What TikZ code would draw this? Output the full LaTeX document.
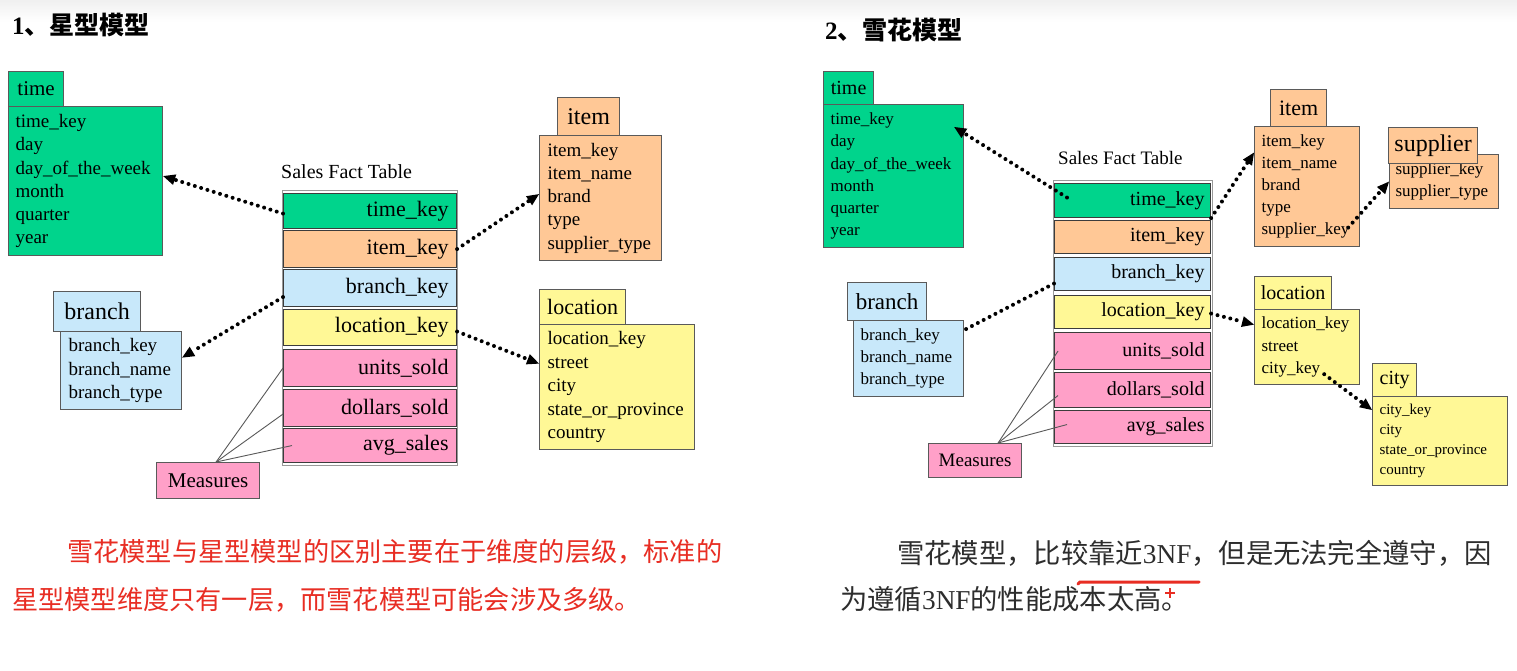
\documentclass[tikz,border=0pt]{standalone}
\usepackage{fontspec}
\setmainfont{Liberation Serif}
\newfontfamily\cjk{Noto Sans CJK SC}
\newfontfamily\lsr{Liberation Serif}
\usetikzlibrary{arrows.meta,calc}
\definecolor{cgreen}{RGB}{0,212,140}
\definecolor{corange}{RGB}{255,200,150}
\definecolor{cblue}{RGB}{200,232,250}
\definecolor{cyellow}{RGB}{255,248,150}
\definecolor{cpink}{RGB}{255,160,200}
\definecolor{cborder}{RGB}{90,90,90}
\definecolor{cdark}{RGB}{60,60,60}
\definecolor{cred}{RGB}{232,45,35}
\definecolor{ctext}{RGB}{45,45,45}
\newcommand\setfz[2]{\fontsize{#1}{#2}\selectfont}
\tikzset{
  wh/.style 2 args={minimum width=#1pt, minimum height=#2pt},
  tw/.style={text width=#1pt},
  tabbox/.style={draw=cborder, line width=1.2pt, anchor=north west, inner sep=0pt, align=center},
  bodybox/.style={draw=cborder, line width=1.2pt, anchor=north west, inner ysep=0pt, align=left},
  factrow/.style={draw=cdark, line width=1.1pt, anchor=north west, inner ysep=0pt, align=right},
  frame/.style={draw=gray!80, line width=1.2pt, anchor=north west, inner sep=0pt},
  dotline/.style={line width=4pt, dash pattern=on 0pt off 6.6pt, line cap=round},
  dotarrow/.style={dotline, -{Triangle[length=12pt,width=11pt,line width=0pt]}},
  measline/.style={draw=gray!70!black, line width=0.9pt},
  lbl/.style={inner sep=0pt},
}
\begin{document}
\begin{tikzpicture}[x=1pt,y=-1pt]
\useasboundingbox (0,0) rectangle (1517,671);
\fill[white] (0,0) rectangle (1517,671);
\shade[top color=gray!12, bottom color=white] (0,0) rectangle (1517,22);

% ---------------- titles ----------------
\node[lbl, anchor=base west] (t1) at (12,35) {\setfz{25}{30}\bfseries 1{\cjk\bfseries 、星型模型}};
\node[lbl, anchor=base west] (t2) at (825,40) {\setfz{25}{30}\bfseries 2{\cjk\bfseries 、雪花模型}};

% ================= LEFT: star schema =================
% time
\node[tabbox, fill=cgreen, wh={55}{35}, font=\setfz{21}{24}] (Ltt) at (8,71) {time};
\node[bodybox, fill=cgreen, wh={154}{149}, inner xsep=7pt, tw=140, font=\setfz{19}{23.2}] (Ltb) at (8,106)
  {time\_key\\day\\day\_of\_the\_week\\month\\quarter\\year};
% item
\node[tabbox, fill=corange, wh={62}{38}, font=\setfz{24}{26}] (Lit) at (557,97) {item};
\node[bodybox, fill=corange, wh={122}{125}, inner xsep=8pt, tw=106, font=\setfz{19}{23.2}] (Lib) at (539,135)
  {item\_key\\item\_name\\brand\\type\\supplier\_type};
% location
\node[tabbox, fill=cyellow, wh={86}{35}, font=\setfz{22}{24}] (Llt) at (539,289) {location};
\node[bodybox, fill=cyellow, wh={155}{125}, inner xsep=8pt, tw=139, font=\setfz{19}{23.5}] (Llb) at (539,324)
  {location\_key\\street\\city\\state\_or\_province\\country};
% branch
\node[tabbox, fill=cblue, wh={87}{40}, font=\setfz{24}{26}] (Lbt) at (53,291) {branch};
\node[bodybox, fill=cblue, wh={121}{78}, inner xsep=8pt, tw=105, font=\setfz{19}{23.5}] (Lbb) at (60,331)
  {branch\_key\\branch\_name\\branch\_type};
% measures
\node[tabbox, fill=cpink, wh={103}{36}, font=\setfz{21}{24}] (Lm) at (156,462) {Measures};
% fact table
\node[lbl, anchor=west, font=\setfz{20}{24}] (Lfl0) at (281,172) {Sales Fact Table};
\node[frame, wh={175}{275}] (Lff) at (282,190) {};
\begin{scope}[every node/.style={factrow, inner xsep=8pt, tw=157, font=\setfz{22}{24}}]
\node[fill=cgreen,  wh={173}{35}] (Lft) at (283,193) {time\_key\hspace*{7pt}};
\node[fill=corange, wh={173}{37}] (Lfi) at (283,230) {item\_key};
\node[fill=cblue,   wh={173}{37}] (Lfb) at (283,269) {branch\_key};
\node[fill=cyellow, wh={173}{36}] (Lfl) at (283,309) {location\_key};
\node[fill=cpink,   wh={170}{37}] (Lfu) at (283,349) {units\_sold};
\node[fill=cpink,   wh={170}{37}] (Lfd) at (283,389) {dollars\_sold};
\node[fill=cpink,   wh={170}{34}] (Lfa) at (283,428) {avg\_sales};
\end{scope}
% connectors
\draw[dotarrow] ([yshift=-2.5pt]Lft.west) -- ([yshift=5pt]Ltb.east);
\draw[dotarrow] (Lfi.east) -- ([yshift=4pt]Lib.west);
\draw[dotarrow] ([yshift=-9pt]Lfb.west) -- ([yshift=13pt]Lbb.east);
\draw[dotarrow] ([yshift=-4pt]Lfl.east) -- ([yshift=23.5pt]Llb.west);
\draw[measline] ([xshift=8pt]Lm.north) -- (Lfu.west);
\draw[measline] ([xshift=8pt]Lm.north) -- ([yshift=-6pt]Lfd.west);
\draw[measline] ([xshift=8pt]Lm.north) -- ([xshift=9pt]Lfa.west);

% ================= RIGHT: snowflake schema =================
% time
\node[tabbox, fill=cgreen, wh={50}{33}, font=\setfz{20}{22}] (Rtt) at (823,71) {time};
\node[bodybox, fill=cgreen, wh={140}{143}, inner xsep=7pt, tw=126, font=\setfz{17}{22.3}] (Rtb) at (823,104)
  {time\_key\\day\\day\_of\_the\_week\\month\\quarter\\year};
% item
\node[tabbox, fill=corange, wh={56}{37}, font=\setfz{22}{24}] (Rit) at (1270,89) {item};
\node[bodybox, fill=corange, wh={105}{120}, inner xsep=7pt, tw=91, font=\setfz{17}{22}] (Rib) at (1254,126)
  {item\_key\\item\_name\\brand\\type\\supplier\_key};
% supplier
\node[bodybox, fill=corange, wh={109}{54}, inner xsep=6pt, tw=97, font=\setfz{17}{22}] (Rsb) at (1389,154)
  {supplier\_key\\supplier\_type};
\node[tabbox, fill=corange, wh={89}{36}, font=\setfz{24}{26}] (Rst) at (1388,127) {supplier};
% location
\node[tabbox, fill=cyellow, wh={77}{33}, font=\setfz{20}{22}] (Rlt) at (1254,276) {location};
\node[bodybox, fill=cyellow, wh={105}{75}, inner xsep=7pt, tw=91, font=\setfz{17}{22.5}] (Rlb) at (1254,309)
  {location\_key\\street\\city\_key};
% city
\node[tabbox, fill=cyellow, wh={44}{33}, font=\setfz{20}{22}] (Rct) at (1372,363) {city};
\node[bodybox, fill=cyellow, wh={135}{89}, inner xsep=7pt, tw=121, font=\setfz{15}{20}] (Rcb) at (1372,396)
  {city\_key\\city\\state\_or\_province\\country};
% branch
\node[tabbox, fill=cblue, wh={79}{38}, font=\setfz{23}{25}] (Rbt) at (847,282) {branch};
\node[bodybox, fill=cblue, wh={110}{76}, inner xsep=7pt, tw=96, font=\setfz{17}{22}] (Rbb) at (853,320)
  {branch\_key\\branch\_name\\branch\_type};
% measures
\node[tabbox, fill=cpink, wh={93}{34}, font=\setfz{19}{22}] (Rm) at (928,443) {Measures};
% fact table
\node[lbl, anchor=west, font=\setfz{19}{22}] (Rfl0) at (1058,158) {Sales Fact Table};
\node[frame, wh={159}{266}] (Rff) at (1053,180) {};
\begin{scope}[every node/.style={factrow, inner xsep=6pt, tw=144, font=\setfz{20}{22}}]
\node[fill=cgreen,  wh={156}{34}] (Rft) at (1054,183) {time\_key\hspace*{6pt}};
\node[fill=corange, wh={156}{33}] (Rfi) at (1054,220) {item\_key};
\node[fill=cblue,   wh={156}{33}] (Rfb) at (1054,257) {branch\_key};
\node[fill=cyellow, wh={156}{33}] (Rfl) at (1054,295) {location\_key};
\node[fill=cpink,   wh={154}{37}] (Rfu) at (1054,332) {units\_sold};
\node[fill=cpink,   wh={154}{35}] (Rfd) at (1054,372) {dollars\_sold};
\node[fill=cpink,   wh={154}{33}] (Rfa) at (1054,410) {avg\_sales};
\end{scope}
% connectors
\draw[dotarrow] ([xshift=13pt,yshift=3pt]Rft.west) -- ([xshift=-10pt,yshift=-23pt]Rtb.north east);
\draw[dotarrow] (Rft.south east) -- ([yshift=34pt]Rib.west);
\draw[dotline] ([yshift=-9.5pt]Rfb.west) -- ([yshift=-10pt]Rbb.north east);
\draw[dotarrow] ([yshift=-1.5pt]Rfl.east) -- ([yshift=22.5pt]Rlb.west);
\draw[dotarrow] ([xshift=-12pt,yshift=-41pt]Rib.east) -- (Rsb.west);
\draw[dotarrow] ([xshift=-36pt,yshift=11pt]Rlb.south east) -- ([yshift=-14pt]Rcb.north west);
\draw[measline] ([xshift=23pt]Rm.north) -- ([xshift=4pt]Rfu.west);
\draw[measline] ([xshift=23pt]Rm.north) -- ([xshift=4pt,yshift=-5.5pt]Rfd.west);
\draw[measline] ([xshift=23pt]Rm.north) -- ([xshift=13pt,yshift=2.5pt]Rfa.west);

% ================= bottom text =================
\node[lbl, anchor=base west, text=cred] (p1a) at (67,561) {\cjk\setfz{26.2}{30}雪花模型与星型模型的区别主要在于维度的层级，标准的};
\node[lbl, anchor=base west, text=cred] (p1b) at (12,609) {\cjk\setfz{26.2}{30}星型模型维度只有一层，而雪花模型可能会涉及多级。};
\node[lbl, anchor=base west, text=ctext] (p2a) at (897,563) {\cjk\setfz{27.3}{30}雪花模型，比较靠近{\lsr 3NF}，但是无法完全遵守，因};
\node[lbl, anchor=base west, text=ctext] (p2b) at (840,609) {\cjk\setfz{27.3}{30}为遵循{\lsr 3NF}的性能成本太高。};
\draw[cred, line width=3pt, line cap=round] (1078,584) -- (1080,582) -- (1199,582);
\draw[cred, line width=1.8pt] (1165,593) -- (1175,593) (1170,588) -- (1170,598);
\end{tikzpicture}
\end{document}
